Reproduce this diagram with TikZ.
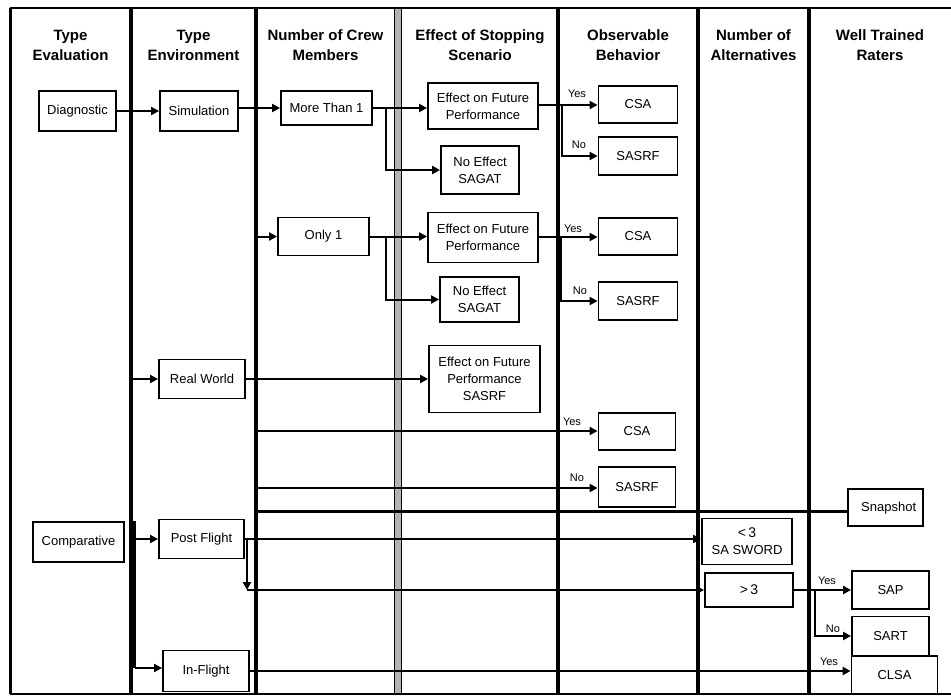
\documentclass[tikz,border=0pt]{standalone}
\usepackage{fontspec}
\setmainfont{Liberation Sans}
\usetikzlibrary{arrows.meta}
\begin{document}
\begin{tikzpicture}[x=1pt,y=-1pt,
  colline/.style={line width=3.5pt},
  frameline/.style={line width=2pt},
  box/.style={draw,line width=1.8pt,align=center,inner sep=0pt,
    font=\fontsize{13}{17}\selectfont},
  head/.style={align=center,font=\bfseries\fontsize{15}{20}\selectfont},
  wire/.style={line width=2pt},
  conn/.style={wire,-{Triangle[length=8pt,width=8pt]}},
  lbl/.style={font=\fontsize{11}{12}\selectfont,inner sep=0pt}]
\useasboundingbox (0,0) rectangle (951,698);

% frame and column rules
\draw[frameline] (10,8) -- (951,8);
\draw[frameline] (10,694) -- (951,694);
\draw[line width=3pt] (10,8) -- (10,694);
\foreach \cx in {131,256,558,698,809}
  \draw[colline] (\cx,8) -- (\cx,694);
\draw[line width=1.6pt,fill=gray!60] (394.5,8) rectangle (401.5,694);
\draw[line width=5pt] (133,521) -- (133,668);

% column headings
\node[head] (h1) at (70.5,45) {Type\\Evaluation};
\node[head] (h2) at (193.5,45) {Type\\Environment};
\node[head] (h3) at (325.5,45) {Number of Crew\\Members};
\node[head] (h4) at (480,45) {Effect of Stopping\\Scenario};
\node[head] (h5) at (628,45) {Observable\\Behavior};
\node[head] (h6) at (753.5,45) {Number of\\Alternatives};
\node[head] (h7) at (880,45) {Well Trained\\Raters};

% boxes
\node[box,minimum width=77pt,minimum height=40pt] (diag) at (77.5,111) {Diagnostic};
\node[box,minimum width=78pt,minimum height=40pt] (sim) at (199,111) {Simulation};
\node[box,minimum width=91pt,minimum height=34pt] (more) at (326.5,108) {More Than 1};
\node[box,minimum width=110pt,minimum height=46pt] (eff1) at (483,106) {Effect on Future\\Performance};
\node[box,minimum width=78pt,minimum height=48pt] (noe1) at (480,170) {No Effect\\SAGAT};
\node[box,minimum width=91pt,minimum height=38pt] (only) at (323.5,236.5) {Only 1};
\node[box,minimum width=110pt,minimum height=50pt] (eff2) at (483,237.5) {Effect on Future\\Performance};
\node[box,minimum width=79pt,minimum height=45pt] (noe2) at (479.5,299.5) {No Effect\\SAGAT};
\node[box,minimum width=79pt,minimum height=37pt] (csa1) at (638,104.5) {CSA};
\node[box,minimum width=79pt,minimum height=38pt] (sasrf1) at (638,156) {SASRF};
\node[box,minimum width=79pt,minimum height=37pt] (csa2) at (638,236.5) {CSA};
\node[box,minimum width=79pt,minimum height=38pt] (sasrf2) at (638,301) {SASRF};
\node[box,minimum width=86pt,minimum height=39pt] (real) at (202,379) {Real World};
\node[box,minimum width=111pt,minimum height=67pt] (eff3) at (484.5,379) {Effect on Future\\Performance\\SASRF};
\node[box,minimum width=77pt,minimum height=37pt] (csa3) at (637,431.5) {CSA};
\node[box,minimum width=77pt,minimum height=40pt] (sasrf3) at (637,487) {SASRF};
\node[box,minimum width=75pt,minimum height=37pt] (snap) at (885.5,507.5) {};
\node[font=\fontsize{13}{15}\selectfont,anchor=west,inner sep=0pt] (snaptxt) at (861,508) {Snapshot};
\node[box,minimum width=91pt,minimum height=40pt] (comp) at (78.5,542) {Comparative};
\node[box,minimum width=85pt,minimum height=39pt] (post) at (201.5,539) {Post Flight};
\node[box,minimum width=86pt,minimum height=41pt] (inf) at (206,671) {In-Flight};
\node[box,minimum width=90pt,minimum height=46pt] (lt3) at (747,541.5) {{\fontsize{14}{15}\selectfont <\,3}\\SA SWORD};
\node[box,minimum width=88pt,minimum height=34pt,font=\fontsize{14}{15}\selectfont] (gt3) at (749,590) {>\,3};
\node[box,minimum width=77pt,minimum height=38pt] (sap) at (890.5,590) {SAP};
\node[box,minimum width=77pt,minimum height=39pt] (sart) at (890.5,636) {SART};
\node[box,minimum width=86pt,minimum height=38pt] (clsa) at (894.5,675) {CLSA};

% junction points
\coordinate (br1) at (386,108);
\coordinate (br2) at (386,236.5);
\coordinate (br3) at (562,105);
\coordinate (br4) at (561,237);
\coordinate (sOnly) at (258,236.5);
\coordinate (sReal) at (133,379);
\coordinate (sCsa) at (258,431);
\coordinate (sSasrf) at (258,488);
\coordinate (sSnap) at (258,511.5);
\coordinate (sPost) at (135,539);
\coordinate (sInf) at (135,668);
\coordinate (pj) at (247,539);
\coordinate (pjd) at (247,590);
\coordinate (br5) at (815,590);

% connectors
\draw[conn] (diag.east) -- (sim.west);
\draw[conn] (sim.east |- more.west) -- (more.west);
\draw[conn] (more.east) -- (more.east -| eff1.west);
\draw[conn] (br1) |- (noe1.west);
\draw[conn] (sOnly) -- (only.west);
\draw[conn] (only.east) -- (only.east -| eff2.west);
\draw[conn] (br2) |- (noe2.west);
\draw[conn] (eff1.east |- br3) -- (br3 -| csa1.west);
\draw[conn] (br3) |- (sasrf1.west);
\draw[conn] (eff2.east |- br4) -- (br4 -| csa2.west);
\draw[conn] (br4) |- (sasrf2.west);
\draw[conn] (sReal) -- (real.west);
\draw[conn] (real.east) -- (real.east -| eff3.west);
\draw[conn] (sCsa) -- (sCsa -| csa3.west);
\draw[conn] (sSasrf) -- (sSasrf -| sasrf3.west);
\draw[line width=2.4pt] (sSnap) -- (sSnap -| snap.west);
\draw[conn] (sPost) -- (post.west);
\draw[conn] (sInf) -- (sInf -| inf.west);
\draw[conn] (post.east) -- (post.east -| lt3.west);
\draw[conn] (pj) -- (pjd);
\draw[conn] (pjd) -- (gt3.west);
\draw[conn] (gt3.east) -- (sap.west);
\draw[conn] (br5) |- (sart.west);
\draw[conn] (inf.east) -- (inf.east -| clsa.west);

% branch labels
\node[lbl] (y1) at (577,94) {Yes};
\node[lbl] (n1) at (579,145) {No};
\node[lbl] (y2) at (573,229) {Yes};
\node[lbl] (n2) at (580,291) {No};
\node[lbl] (y3) at (572,422) {Yes};
\node[lbl] (n3) at (577,478) {No};
\node[lbl] (y4) at (827,581) {Yes};
\node[lbl] (n4) at (833,629) {No};
\node[lbl] (y5) at (829,662) {Yes};
\end{tikzpicture}
\end{document}
